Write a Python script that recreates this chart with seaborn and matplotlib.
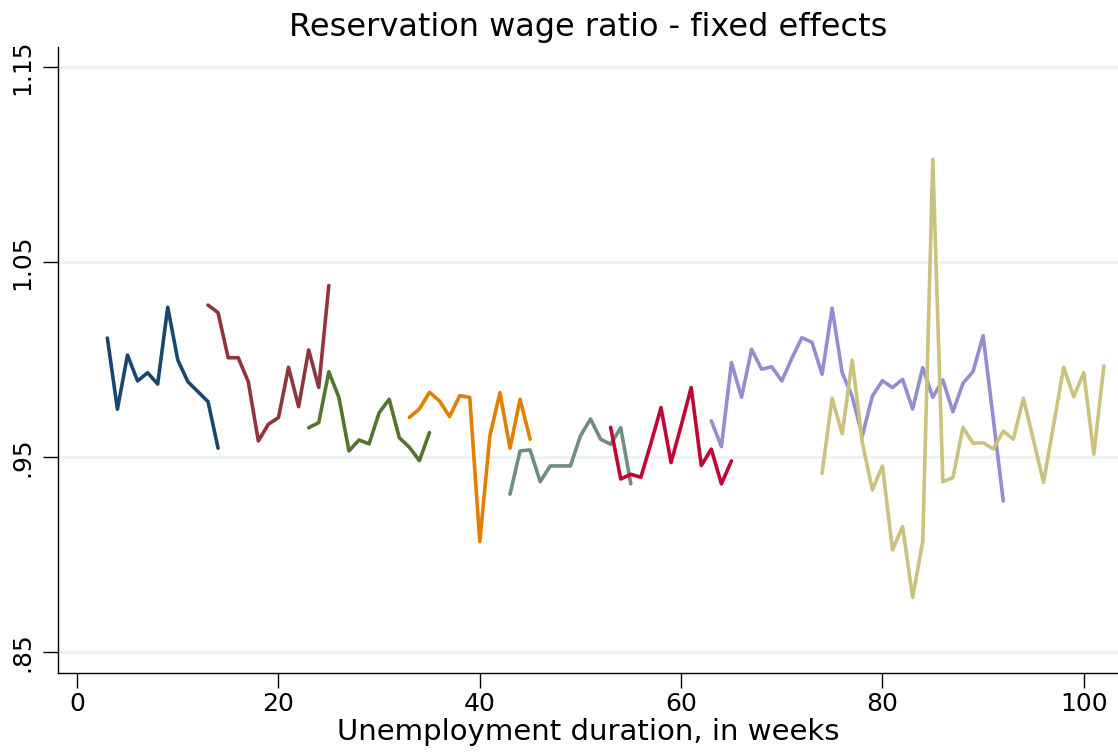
import pandas as pd
import matplotlib
matplotlib.use("Agg")
import matplotlib.pyplot as plt
import seaborn as sns

# Semanas y ratios por tramo (lectura aproximada del grafico)
weeks_1 = [3, 4, 5, 6, 7, 8, 9, 10, 11, 12, 13, 14]
ratio_1 = [1.011, 0.9745, 1.0023, 0.989, 0.9932, 0.9874, 1.0268, 0.9997, 0.9886, 0.9835, 0.9784, 0.9545]

weeks_2 = list(range(13, 26))
ratio_2 = [1.0279, 1.024, 1.0009, 1.0009, 0.9886, 0.9582, 0.9668, 0.9702, 0.996, 0.9758, 1.0049, 0.9857, 1.0379]

weeks_3 = list(range(23, 36))
ratio_3 = [0.965, 0.9676, 0.9937, 0.9806, 0.9531, 0.9587, 0.9567, 0.9727, 0.9796, 0.9599, 0.955, 0.9481, 0.9625]

weeks_4 = list(range(33, 46))
ratio_4 = [0.9703, 0.9746, 0.9832, 0.9787, 0.9707, 0.9814, 0.9806, 0.9066, 0.9608, 0.983, 0.9545, 0.9796, 0.9591]

weeks_5 = list(range(43, 56))
ratio_5 = [0.9309, 0.9531, 0.9536, 0.9373, 0.9454, 0.9454, 0.9454, 0.9608, 0.9695, 0.9591, 0.9565, 0.965, 0.9362]

weeks_6 = list(range(53, 66))
ratio_6 = [0.9652, 0.9387, 0.9411, 0.9396, 0.957, 0.9753, 0.9471, 0.966, 0.9856, 0.9456, 0.954, 0.9362, 0.948]

weeks_7 = list(range(63, 93))
ratio_7 = [0.9685, 0.9553, 0.9984, 0.9806, 1.0052, 0.995, 0.9963, 0.989, 1.0006, 1.0112,
           1.0088, 0.9924, 1.0263, 0.9932, 0.9809, 0.9608, 0.9813, 0.9891, 0.9856, 0.9898,
           0.9746, 0.9958, 0.9806, 0.9895, 0.9732, 0.9878, 0.9938, 1.0122, 0.970, 0.9274]

weeks_8 = list(range(74, 103))
ratio_8 = [0.9416, 0.9801, 0.9618, 0.9997, 0.9573, 0.9331, 0.9454, 0.9023, 0.9143, 0.8779,
           0.9066, 1.1027, 0.9373, 0.9394, 0.9652, 0.957, 0.9573, 0.9541, 0.9633, 0.9591,
           0.9801, 0.9587, 0.937, 0.9664, 0.996, 0.9809, 0.9932, 0.9514, 0.9967]

colores = ['#1a476f', '#90353b', '#55752f', '#e37e00', '#6e8e84', '#c10534', '#938dd2', '#cac27e']

tramos = [(weeks_1, ratio_1), (weeks_2, ratio_2), (weeks_3, ratio_3), (weeks_4, ratio_4),
          (weeks_5, ratio_5), (weeks_6, ratio_6), (weeks_7, ratio_7), (weeks_8, ratio_8)]

filas = []
for i, (w, r) in enumerate(tramos):
    for semana, valor in zip(w, r):
        filas.append({'semana': semana, 'ratio': valor, 'tramo': i})
df = pd.DataFrame(filas)

sns.set_style('white')
plt.rcParams['font.family'] = ['DejaVu Sans']
plt.rcParams['text.color'] = 'black'
plt.rcParams['axes.labelcolor'] = 'black'
plt.rcParams['xtick.color'] = 'black'
plt.rcParams['ytick.color'] = 'black'

fig = plt.figure(figsize=(11.18, 7.53), dpi=100)
ax = fig.add_axes([0.0519, 0.1063, 0.9481, 0.8313])

# Lineas de rejilla horizontales
for y in [0.85, 0.95, 1.05, 1.15]:
    ax.axhline(y, color='#eaf2f3', linewidth=2, zorder=0)

sns.lineplot(data=df, x='semana', y='ratio', hue='tramo', palette=colores,
             linewidth=2.6, legend=False, estimator=None, ax=ax)

ax.set_xlim(-1.9, 103.4)
ax.set_ylim(0.8392, 1.1603)
ax.set_xticks([0, 20, 40, 60, 80, 100])
ax.set_yticks([0.85, 0.95, 1.05, 1.15])
ax.set_yticklabels(['.85', '.95', '1.05', '1.15'], rotation=90, va='center')
ax.tick_params(axis='both', direction='out', length=11, width=1, labelsize=18,
               color='black', labelcolor='black', pad=6, bottom=True, left=True)
ax.tick_params(axis='x', pad=3)

for lado in ['top', 'right']:
    ax.spines[lado].set_visible(False)
for lado in ['left', 'bottom']:
    ax.spines[lado].set_color('black')
    ax.spines[lado].set_linewidth(1)

ax.set_xlabel('Unemployment duration, in weeks', fontsize=21, labelpad=1, color='black')
ax.set_ylabel('')
ax.set_title('Reservation wage ratio - fixed effects', fontsize=23, pad=8, color='black')

fig.savefig('out.png', dpi=100, facecolor='white')
